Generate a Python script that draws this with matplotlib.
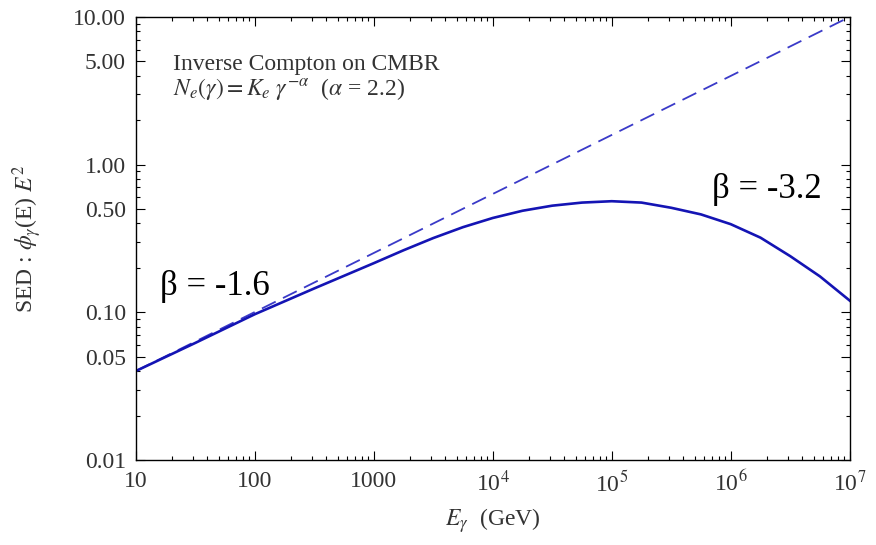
import numpy as np
import matplotlib
matplotlib.use("Agg")
import matplotlib.pyplot as plt
from matplotlib.ticker import FixedLocator, FixedFormatter, LogLocator, NullFormatter

plt.rcParams['font.family'] = ['Liberation Serif', 'DejaVu Serif']
plt.rcParams['mathtext.fontset'] = 'stix'

# values
energy = [10, 31.6, 100, 316, 1e3, 1.78e3, 3.16e3, 5.62e3, 1e4, 1.78e4, 3.16e4,
          5.62e4, 1e5, 1.78e5, 3.16e5, 5.62e5, 1e6, 1.78e6, 3.16e6, 5.62e6, 1e7]
sed = [0.040, 0.062, 0.097, 0.145, 0.215, 0.263, 0.318, 0.377, 0.435, 0.487, 0.527,
       0.553, 0.565, 0.553, 0.51, 0.46, 0.395, 0.32, 0.24, 0.175, 0.12]
pl_energy = [10, 1e7]
pl_sed = [0.040, 10.0]

xticks = [10, 100, 1000, 1e4, 1e5, 1e6, 1e7]
xlabels = ["10", "100", "1000", "10$^{4}$", "10$^{5}$", "10$^{6}$", "10$^{7}$"]
yticks = [0.01, 0.05, 0.10, 0.50, 1.00, 5.00, 10.00]
ylabels = ["0.01", "0.05", "0.10", "0.50", "1.00", "5.00", "10.00"]

fig = plt.figure(figsize=(8.76, 5.45), dpi=100)
ax = fig.add_axes([0.155, 0.156, 0.815, 0.813])

ax.plot(pl_energy, pl_sed, color="#3a3ac8", lw=1.3, dashes=(8.5, 4.5))
ax.plot(energy, sed, color="#1414b4", lw=1.9)

ax.set_xscale("log")
ax.set_yscale("log")
ax.set_xlim(10, 1e7)
ax.set_ylim(0.01, 10)

ax.xaxis.set_major_locator(FixedLocator(xticks))
ax.xaxis.set_major_formatter(FixedFormatter(xlabels))
ax.yaxis.set_major_locator(FixedLocator(yticks))
ax.yaxis.set_major_formatter(FixedFormatter(ylabels))
ax.xaxis.set_minor_locator(LogLocator(base=10, subs=np.arange(2, 10)))
ax.yaxis.set_minor_locator(LogLocator(base=10, subs=[2, 3, 4, 6, 7, 8, 9]))
ax.xaxis.set_minor_formatter(NullFormatter())
ax.yaxis.set_minor_formatter(NullFormatter())

ax.tick_params(which="both", direction="in", top=True, right=True,
               labelsize=17, labelcolor="#333333", width=0.8)
ax.tick_params(which="major", length=6.5)
ax.tick_params(which="minor", length=3)
ax.tick_params(axis="x", which="major", pad=8)
ax.tick_params(axis="y", which="major", pad=7)
for s in ax.spines.values():
    s.set_linewidth(1.0)

ax.set_xlabel(r"$E_\gamma$  (GeV)", fontsize=17, color="#333333")
ax.set_ylabel(r"SED : $\phi_\gamma$(E) $E^2$", fontsize=17, color="#333333")
ax.xaxis.set_label_coords(0.5, -0.105)
ax.yaxis.set_label_coords(-0.128, 0.5)

ax.text(0.052, 0.880, "Inverse Compton on CMBR", transform=ax.transAxes,
        fontsize=17, color="#333333")
ax.text(0.052, 0.824, r"$N_e(\gamma) = K_e\ \gamma^{-\alpha}$  ($\alpha$ = 2.2)",
        transform=ax.transAxes, fontsize=17, color="#333333")

ax.text(0.034, 0.372, "β = -1.6", transform=ax.transAxes, fontsize=25, color="black")
ax.text(0.807, 0.591, "β = -3.2", transform=ax.transAxes, fontsize=25, color="black")

fig.savefig("out.png", dpi=100)
